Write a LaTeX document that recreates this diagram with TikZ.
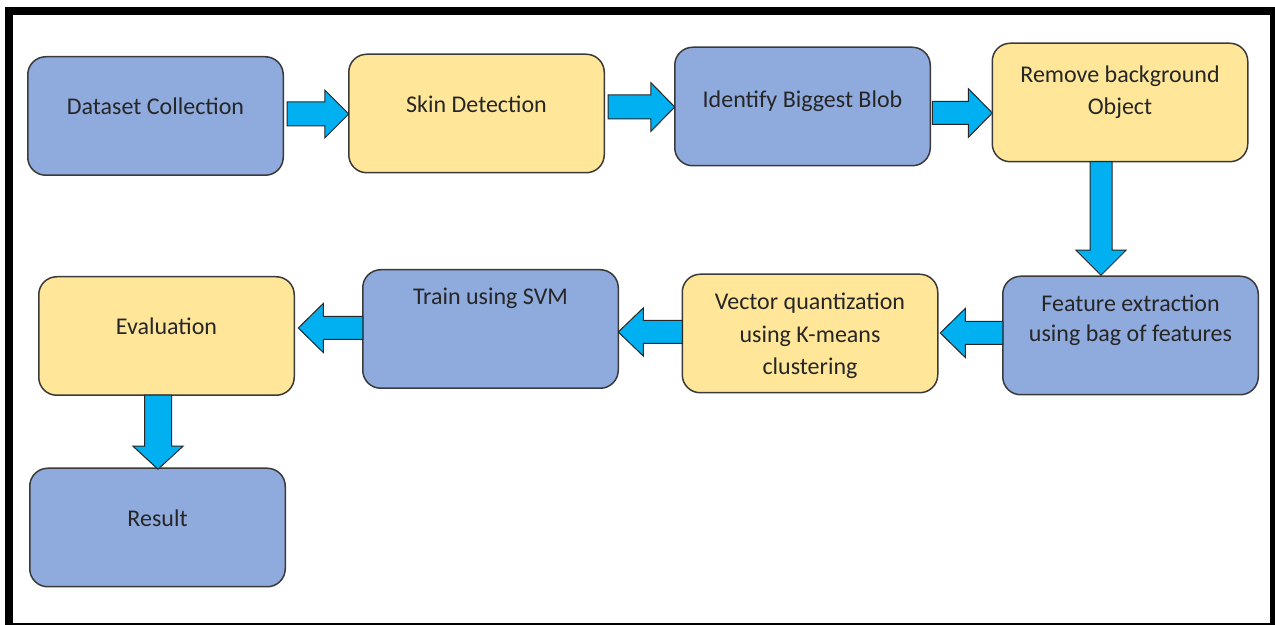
\documentclass[tikz,border=0pt]{standalone}
\usepackage{fontspec}
\setmainfont{Carlito}
\usetikzlibrary{calc}
\definecolor{boxblue}{HTML}{8FAADC}
\definecolor{boxyellow}{HTML}{FFE699}
\definecolor{arrowblue}{HTML}{00B0F0}
\definecolor{boxline}{HTML}{3A3A3A}
\definecolor{txtcol}{HTML}{262626}
% #1 start coordinate, #2 tip coordinate, #3 shaft half width, #4 head half width, #5 head length
\newcommand\blockarrow[5]{%
  \path ($(#2)!#5!(#1)$) coordinate (bh);
  \draw[barrow] ($(#1)!#3!90:(#2)$) -- ($(bh)!#3!90:(#2)$) -- ($(bh)!#4!90:(#2)$) -- (#2)
     -- ($(bh)!#4!-90:(#2)$) -- ($(bh)!#3!-90:(#2)$) -- ($(#1)!#3!-90:(#2)$) -- cycle;
}
\begin{document}
\begin{tikzpicture}[x=0.5pt,y=-0.5pt,
  box/.style={rectangle, rounded corners=9pt, draw=boxline, line width=0.75pt,
    minimum width=127.75pt, minimum height=59.25pt, inner sep=0pt, outer sep=0pt},
  bluebox/.style={box, fill=boxblue},
  yelbox/.style={box, fill=boxyellow},
  txt/.style={anchor=base, inner sep=0pt, align=center, text=txtcol,
    font=\fontsize{12}{16}\selectfont},
  barrow/.style={fill=arrowblue, draw=black!85, line width=0.5pt, line join=miter}]
\useasboundingbox (0,0) rectangle (1275,625);
\fill[white] (0,0) rectangle (1275,625);
\fill[black] (5,7) rectangle (1275,625);
\fill[white] (13,15) rectangle (1270,623);

% boxes
\node[bluebox] (dc) at (155.5,116) {};
\node[yelbox]  (sd) at (476.5,113.5) {};
\node[bluebox] (ib) at (802.5,106.5) {};
\node[yelbox]  (rb) at (1120,102.5) {};
\node[bluebox] (fe) at (1130.5,335.5) {};
\node[yelbox]  (vq) at (810,333.5) {};
\node[bluebox] (tr) at (490.5,329) {};
\node[yelbox]  (ev) at (166.5,336) {};
\node[bluebox] (rs) at (157.5,527.5) {};

% texts (anchor=base is the baseline of the last line)
\node[txt] at (155.5,115) {Dataset Collection};
\node[txt] at (476.5,113) {Skin Detection};
\node[txt] at (802.5,108) {Identify Biggest Blob};
\node[txt] at (1120,115) {Remove background\\Object};
\node[txt, font=\fontsize{12}{15}\selectfont] at (1130.5,342) {Feature extraction\\using bag of features};
\node[txt, font=\fontsize{12}{16.25}\selectfont] at (810,375) {Vector quantization\\using K-means\\clustering};
\node[txt] at (490.5,305) {Train using SVM};
\node[txt] at (166.5,335) {Evaluation};
\node[txt] at (157.5,527) {Result};

% connectors
\coordinate (a1s) at ($(dc.east)+(3.75,-2)$);   \coordinate (a1t) at ($(sd.west)+(0,0.5)$);
\coordinate (a2s) at ($(sd.east)+(3.75,-6.5)$); \coordinate (a2t) at ($(ib.west)+(0,0.5)$);
\coordinate (a3s) at ($(ib.east)+(2,6.5)$);     \coordinate (a3t) at ($(rb.west)+(0,10.5)$);
\coordinate (a4s) at ($(rb.south)+(-19,0)$);    \coordinate (a4t) at ($(fe.north)+(-29.5,-1)$);
\coordinate (a5s) at ($(fe.west)+(0,-2.5)$);    \coordinate (a5t) at ($(vq.east)+(2.5,-0.5)$);
\coordinate (a6s) at ($(vq.west)+(0,-1.5)$);    \coordinate (a6t) at ($(tr.east)+(0,3)$);
\coordinate (a7s) at ($(tr.west)+(0,-1)$);      \coordinate (a7t) at ($(ev.east)+(4,-8)$);
\coordinate (a8s) at ($(ev.south)+(-8.5,0)$);   \coordinate (a8t) at ($(rs.north)+(0.5,1)$);

\blockarrow{a1s}{a1t}{6pt}{12pt}{12pt}
\blockarrow{a2s}{a2t}{6pt}{12.25pt}{12pt}
\blockarrow{a3s}{a3t}{5.75pt}{12.25pt}{12pt}
\blockarrow{a4s}{a4t}{5.5pt}{12.5pt}{12.5pt}
\blockarrow{a5s}{a5t}{5.75pt}{12.25pt}{12.5pt}
\blockarrow{a6s}{a6t}{5.75pt}{12pt}{12.5pt}
\blockarrow{a7s}{a7t}{5.75pt}{12.25pt}{12.5pt}
\blockarrow{a8s}{a8t}{6.75pt}{12.5pt}{11.5pt}
\end{tikzpicture}
\end{document}
